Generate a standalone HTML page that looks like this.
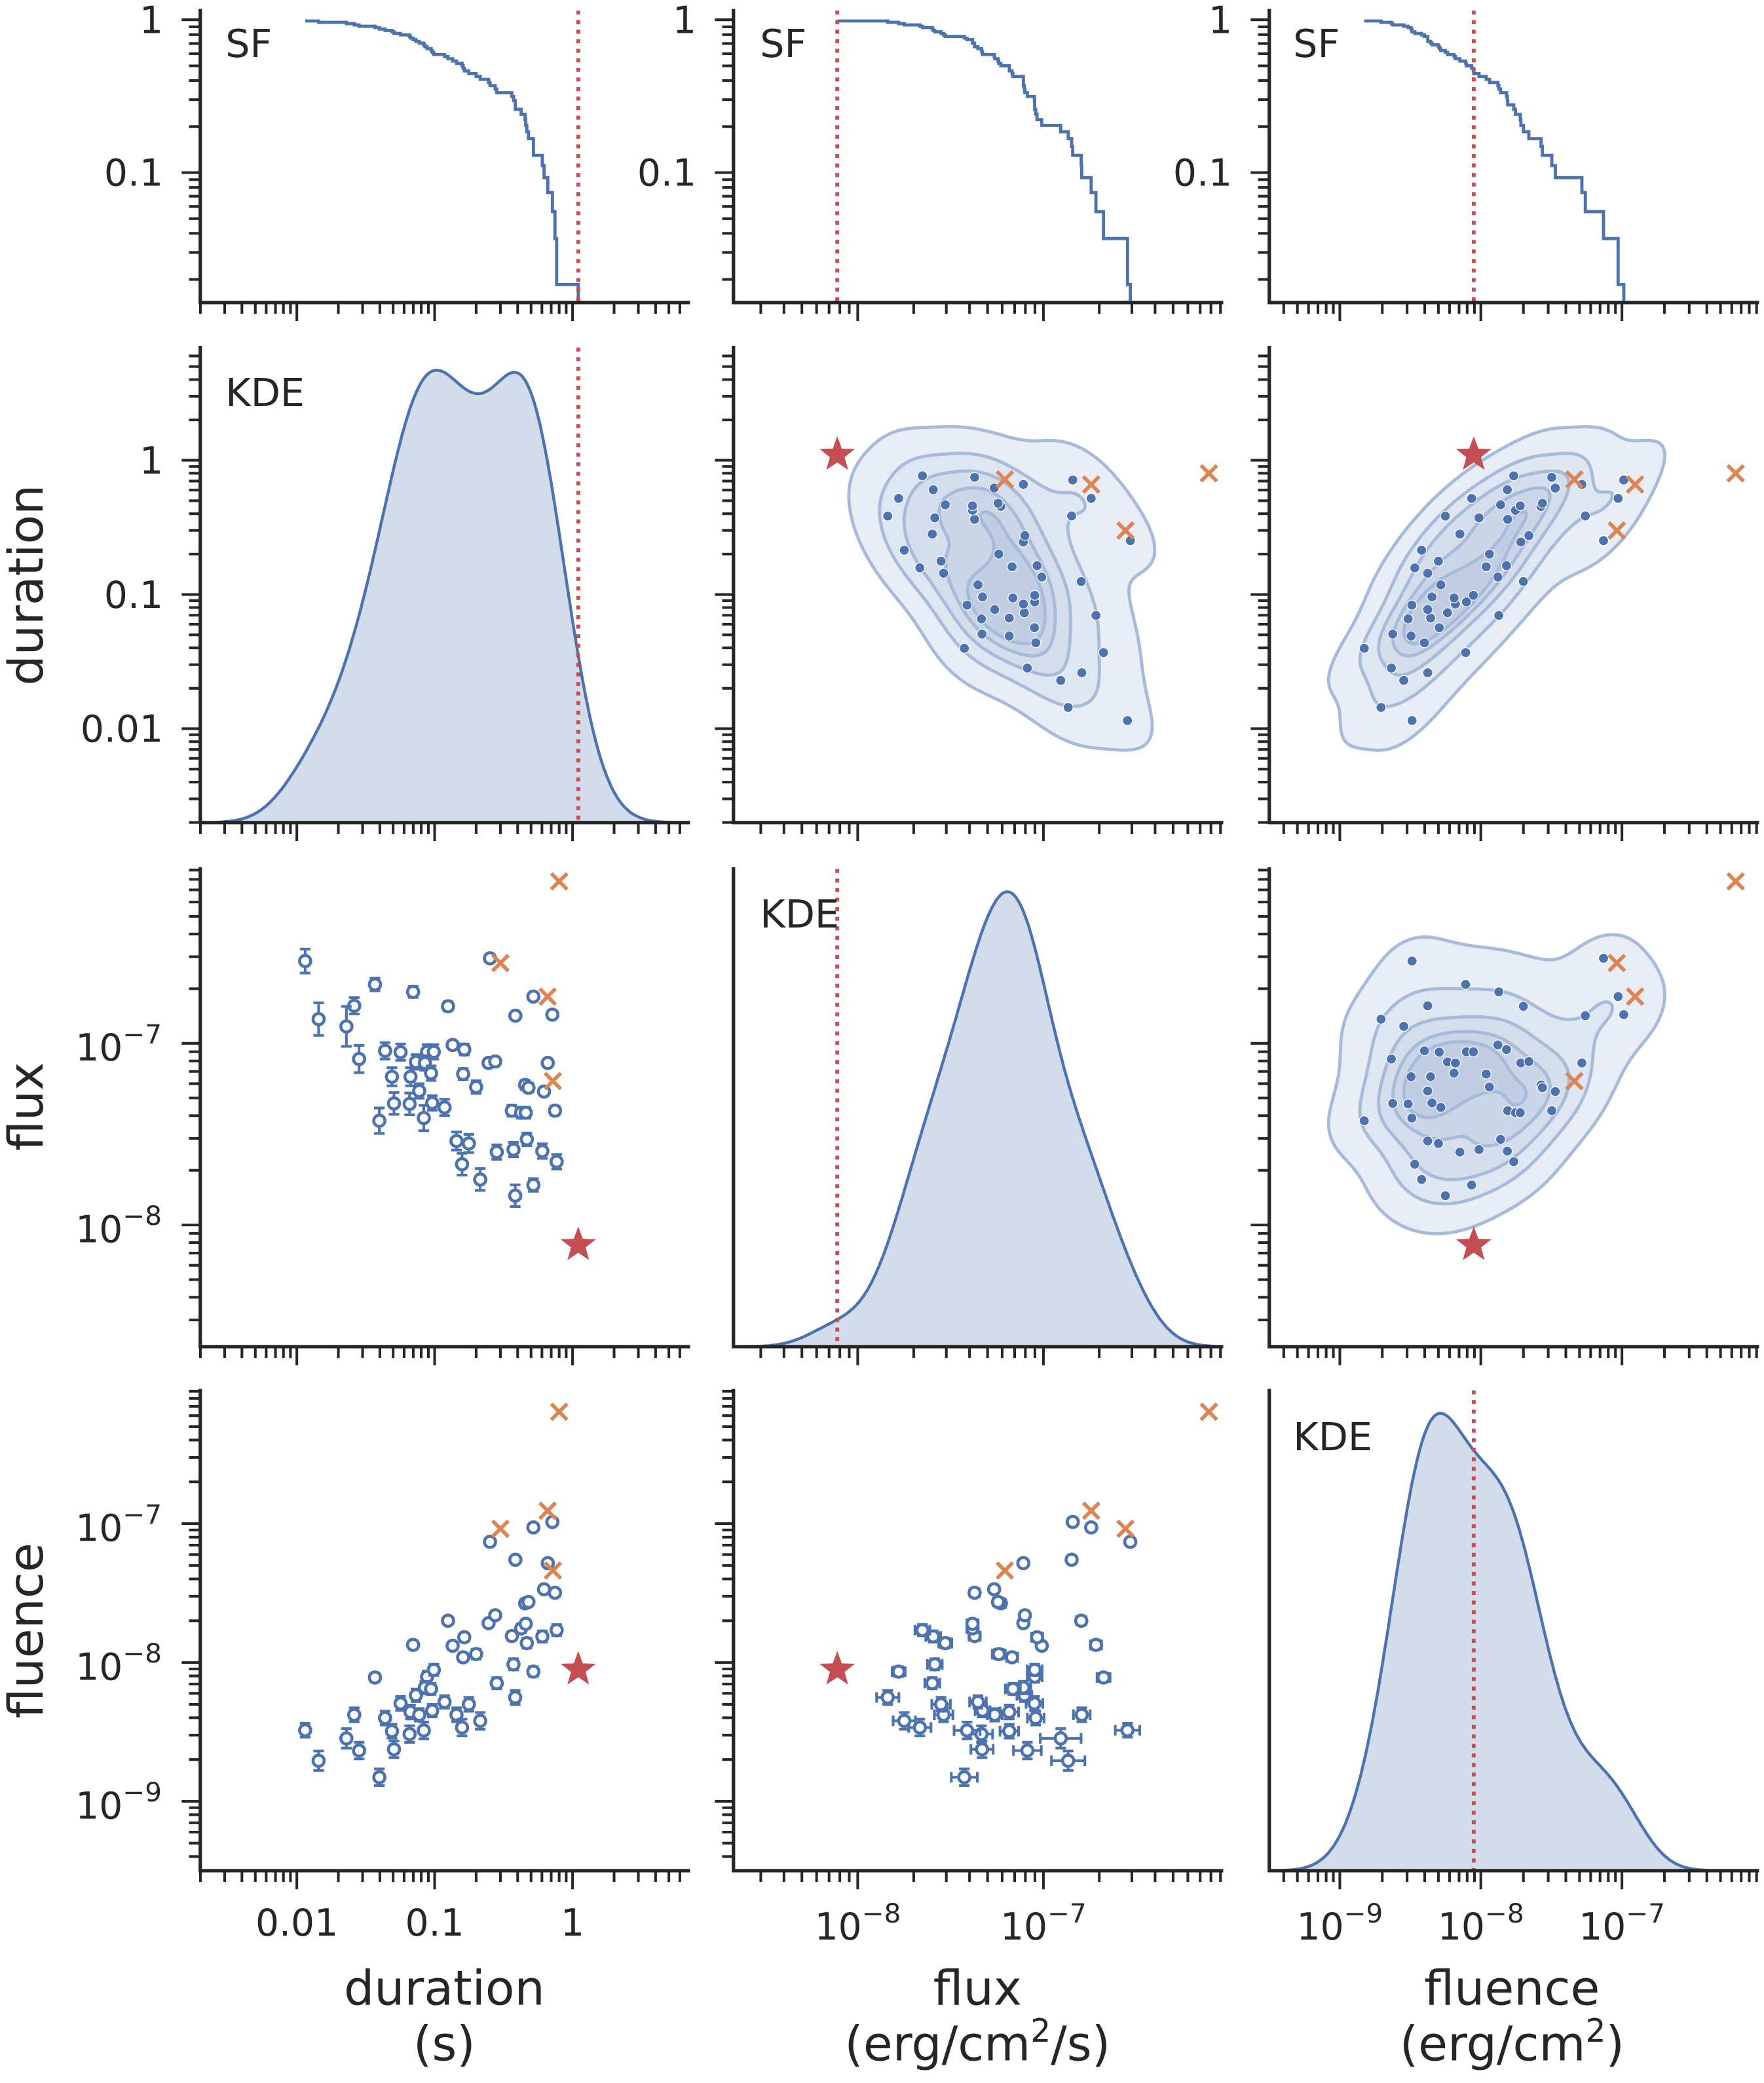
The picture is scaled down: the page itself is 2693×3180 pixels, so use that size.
<!DOCTYPE html>
<html><head><meta charset="utf-8"><title>Pair plot: duration, flux, fluence</title>
<style>
html,body{margin:0;padding:0;background:#fff;}
svg{display:block;}
text{font-family:"DejaVu Sans","Liberation Sans",sans-serif;fill:#262626;}
</style></head>
<body>
<svg id="chart" xmlns="http://www.w3.org/2000/svg" width="2693" height="3180" viewBox="0 0 1330 1570" preserveAspectRatio="none">
<rect x="0" y="0" width="1330" height="1570" fill="#fff"/>
<defs id="defs"></defs>
<g id="layer-fill"></g>
<g id="layer-marks"></g>
<g id="layer-axes"></g>
<g id="layer-text">
  <text x="170" y="43" font-size="29">SF</text>
  <text x="573" y="43" font-size="29">SF</text>
  <text x="975" y="43" font-size="29">SF</text>
  <text x="170" y="306" font-size="29">KDE</text>
  <text x="573" y="699" font-size="29">KDE</text>
  <text x="975" y="1093" font-size="29">KDE</text>
  <text x="335" y="1511" font-size="36" text-anchor="middle">duration</text>
  <text x="335" y="1553" font-size="36" text-anchor="middle">(s)</text>
  <text x="737" y="1511" font-size="36" text-anchor="middle">flux</text>
  <text x="737" y="1553" font-size="36" text-anchor="middle">(erg/cm<tspan dy="-14" font-size="24">2</tspan><tspan dy="14">/s)</tspan></text>
  <text x="1140" y="1511" font-size="36" text-anchor="middle">fluence</text>
  <text x="1140" y="1553" font-size="36" text-anchor="middle">(erg/cm<tspan dy="-14" font-size="24">2</tspan><tspan dy="14">)</tspan></text>
  <text transform="translate(32,441) rotate(-90)" font-size="36" text-anchor="middle">duration</text>
  <text transform="translate(32,834) rotate(-90)" font-size="36" text-anchor="middle">flux</text>
  <text transform="translate(32,1229) rotate(-90)" font-size="36" text-anchor="middle">fluence</text>
</g>
</svg>
<script>
// ---- data (blue bursts) ----
const dur = [0.0115,0.0144,0.0261,0.0229,0.0369,0.0283,0.0698,0.125,0.0437,0.0566,
0.0881,0.0986,0.0731,0.0849,0.049,0.0668,0.0942,0.0773,0.0507,0.0658,
0.096,0.118,0.0397,0.0834,0.135,0.164,0.161,0.200,0.246,0.275,
0.252,0.520,0.385,0.714,0.661,0.453,0.479,0.621,0.363,0.424,
0.746,0.458,0.144,0.177,0.158,0.214,0.282,0.373,0.466,0.604,
0.767,0.384,0.520];
const flux = [2.84e-7,1.36e-7,1.61e-7,1.24e-7,2.11e-7,8.2e-8,1.92e-7,1.60e-7,9.1e-8,8.95e-8,
8.98e-8,8.98e-8,7.9e-8,7.8e-8,6.55e-8,6.55e-8,6.85e-8,5.47e-8,4.67e-8,4.64e-8,
4.70e-8,4.44e-8,3.75e-8,3.88e-8,9.8e-8,9.25e-8,6.78e-8,5.75e-8,7.8e-8,7.95e-8,
2.94e-7,1.81e-7,1.42e-7,1.44e-7,7.8e-8,5.9e-8,5.7e-8,5.43e-8,4.26e-8,4.15e-8,
4.26e-8,4.15e-8,2.90e-8,2.81e-8,2.16e-8,1.78e-8,2.52e-8,2.60e-8,2.96e-8,2.55e-8,
2.23e-8,1.45e-8,1.66e-8];
const flu = [3.25e-9,1.96e-9,4.2e-9,2.84e-9,7.8e-9,2.32e-9,1.34e-8,2.0e-8,3.98e-9,5.07e-9,
7.9e-9,8.85e-9,5.8e-9,6.6e-9,3.2e-9,4.4e-9,6.45e-9,4.2e-9,2.37e-9,3.05e-9,
4.5e-9,5.2e-9,1.49e-9,3.24e-9,1.32e-8,1.52e-8,1.09e-8,1.15e-8,1.92e-8,2.19e-8,
7.4e-8,9.4e-8,5.5e-8,1.03e-7,5.2e-8,2.67e-8,2.73e-8,3.37e-8,1.55e-8,1.76e-8,
3.18e-8,1.9e-8,4.2e-9,5.0e-9,3.4e-9,3.8e-9,7.1e-9,9.7e-9,1.38e-8,1.54e-8,
1.71e-8,5.6e-9,8.6e-9];
// error bars (dex)
const fluxErr = [0.066,0.09,0.045,0.11,0.035,0.075,0.03,0.025,0.045,0.045,
0.04,0.04,0.04,0.04,0.05,0.05,0.04,0.04,0.06,0.06,
0.04,0.045,0.07,0.07,0.02,0.03,0.03,0.035,0.02,0.02,
0.02,0.02,0.02,0.02,0.02,0.025,0.025,0.02,0.03,0.03,
0.025,0.03,0.05,0.05,0.06,0.06,0.04,0.04,0.035,0.04,
0.04,0.06,0.035];
const fluErr = [0.05,0.07,0.05,0.07,0.03,0.06,0.03,0.025,0.05,0.05,
0.04,0.04,0.045,0.045,0.05,0.05,0.04,0.045,0.06,0.06,
0.045,0.045,0.06,0.06,0.025,0.03,0.03,0.035,0.02,0.02,
0.02,0.02,0.02,0.02,0.02,0.025,0.025,0.02,0.03,0.03,
0.025,0.03,0.05,0.05,0.06,0.06,0.04,0.04,0.035,0.04,
0.04,0.05,0.035];
// outliers (orange crosses)
const xDur = [0.80,0.30,0.66,0.72];
const xFlux = [7.8e-7,2.77e-7,1.81e-7,6.2e-8];
const xFlu = [6.4e-7,9.2e-8,1.24e-7,4.6e-8];
// highlighted event (red star)
const starDur = 1.1;
const starFlux = 7.75e-9;
const starFlu = 8.9e-9;
// tick labels
const durTickLabels = {"-2":"0.01","-1":"0.1","0":"1"};
const kdeIsoProps = [0.05,0.24,0.43,0.62,0.81];

const BLUE='#4c72b0', ORANGE='#dd8452', RED='#c44e52', DARK='#262626';
const AX = {dur:{lo:-2.70,hi:0.84}, flux:{lo:-8.67,hi:-6.04}, flu:{lo:-9.50,hi:-6.04}, sf:{lo:-1.85,hi:0.06}};
const cols = [{x0:151,x1:519,v:'dur'},{x0:553,x1:921,v:'flux'},{x0:957,x1:1325,v:'flu'}];
const rows = [{y0:8,y1:228,v:'sf'},{y0:262,y1:620,v:'dur'},{y0:655,y1:1015,v:'flux'},{y0:1048,y1:1410,v:'flu'}];
const DATA = {dur:dur, flux:flux, flu:flu};
const OUT = {dur:xDur, flux:xFlux, flu:xFlu};
const STAR = {dur:starDur, flux:starFlux, flu:starFlu};
const ERR = {flux:fluxErr, flu:fluErr};
const NS='http://www.w3.org/2000/svg';
const gFill=document.getElementById('layer-fill'), gMarks=document.getElementById('layer-marks'), gAxes=document.getElementById('layer-axes'), defs=document.getElementById('defs');

function el(tag, attrs, parent){const e=document.createElementNS(NS,tag);for(const k in attrs)e.setAttribute(k,attrs[k]);(parent||gMarks).appendChild(e);return e;}
function nm(e,name,inter){
  
  
  return e;}
const lg=Math.log10;
function px(c,lv){const C=cols[c],A=AX[C.v];return C.x0+(lv-A.lo)/(A.hi-A.lo)*(C.x1-C.x0);}
function py(r,lv){const R=rows[r],A=AX[R.v];return R.y1-(lv-A.lo)/(A.hi-A.lo)*(R.y1-R.y0);}

for(let r=0;r<4;r++)for(let c=0;c<3;c++){
  const cp=el('clipPath',{id:'clip'+r+c},defs);
  el('rect',{x:cols[c].x0,y:rows[r].y0,width:cols[c].x1-cols[c].x0,height:rows[r].y1-rows[r].y0},cp);
}

// ---- survival functions (row 0) ----
for(let c=0;c<3;c++){
  const v=cols[c].v;
  const vals=DATA[v].concat([STAR[v]]).slice().sort((a,b)=>a-b);
  const n=vals.length;
  let d='';
  for(let i=0;i<n-1;i++){
    const lvl=(n-i-1)/n;
    const xa=px(c,lg(vals[i])), xb=px(c,lg(vals[i+1])), y=py(0,lg(lvl));
    d+=(i===0?'M':'L')+xa.toFixed(1)+' '+y.toFixed(1)+'L'+xb.toFixed(1)+' '+y.toFixed(1);
  }
  d+='L'+px(c,lg(vals[n-1])).toFixed(1)+' '+rows[0].y1;
  const p=el('path',{d:d,fill:'none',stroke:BLUE,'stroke-width':2.4,'clip-path':'url(#clip0'+c+')'});
  nm(p,'sf-curve-'+v);
}

// ---- 1D KDE (diagonal) ----
function kde1(vals){
  const n=vals.length, m=vals.reduce((a,b)=>a+b,0)/n;
  const sd=Math.sqrt(vals.reduce((a,b)=>a+(b-m)*(b-m),0)/(n-1));
  const bw=sd*Math.pow(n,-0.2);
  const lo=Math.min(...vals)-3*bw, hi=Math.max(...vals)+3*bw;
  const xs=[],ds=[];
  for(let i=0;i<=300;i++){const x=lo+(hi-lo)*i/300;let s=0;for(const v of vals){const z=(x-v)/bw;s+=Math.exp(-0.5*z*z);}xs.push(x);ds.push(s);}
  return {xs,ds};
}
[[1,0],[2,1],[3,2]].forEach(([r,c])=>{
  const v=cols[c].v;
  const vals=DATA[v].concat([STAR[v]]).map(lg);
  const k=kde1(vals), mx=Math.max(...k.ds), R=rows[r], H=(R.y1-R.y0)/1.05;
  let d='M'+px(c,k.xs[0]).toFixed(1)+' '+R.y1;
  for(let i=0;i<k.xs.length;i++) d+='L'+px(c,k.xs[i]).toFixed(1)+' '+(R.y1-k.ds[i]/mx*H).toFixed(1);
  d+='L'+px(c,k.xs[k.xs.length-1]).toFixed(1)+' '+R.y1+'Z';
  const p=el('path',{d:d,fill:'#d3dcea',stroke:BLUE,'stroke-width':2.2,'clip-path':'url(#clip'+r+c+')'},gFill);
  nm(p,'kde-curve-'+v);
});

// ---- 2D KDE contours (upper triangle) ----
const bandColors=['#e9eef6','#dee6f1','#d4ddec','#cad5e7','#c0cde3'];
function kde2(r,c){
  const vx=cols[c].v, vy=rows[r].v;
  const X=DATA[vx].map(lg), Y=DATA[vy].map(lg), n=X.length;
  const mx=X.reduce((a,b)=>a+b,0)/n, my=Y.reduce((a,b)=>a+b,0)/n;
  let sxx=0,syy=0,sxy=0;
  for(let i=0;i<n;i++){sxx+=(X[i]-mx)**2;syy+=(Y[i]-my)**2;sxy+=(X[i]-mx)*(Y[i]-my);}
  const f=Math.pow(n,-1/3);
  sxx=sxx/(n-1)*f;syy=syy/(n-1)*f;sxy=sxy/(n-1)*f;
  const det=sxx*syy-sxy*sxy, ia=syy/det, ib=-sxy/det, ic=sxx/det;
  const C=cols[c],R=rows[r],Ax=AX[vx],Ay=AX[vy],s=2;
  const nx=Math.floor((C.x1-C.x0)/s)+1, ny=Math.floor((R.y1-R.y0)/s)+1;
  const G=[],all=[];
  for(let j=0;j<ny;j++){const row=[];const ly=Ay.lo+(R.y1-(R.y0+j*s))/(R.y1-R.y0)*(Ay.hi-Ay.lo);
    for(let i=0;i<nx;i++){const lx=Ax.lo+(i*s)/(C.x1-C.x0)*(Ax.hi-Ax.lo);let t=0;
      for(let k=0;k<n;k++){const dx=lx-X[k],dy=ly-Y[k];t+=Math.exp(-0.5*(ia*dx*dx+2*ib*dx*dy+ic*dy*dy));}
      row.push(t);all.push(t);}
    G.push(row);}
  all.sort((a,b)=>b-a);const tot=all.reduce((a,b)=>a+b,0);
  const levels=kdeIsoProps.map(p=>{let cum=0;for(const v of all){cum+=v;if(cum/tot>=1-p)return v;}return all[all.length-1];});
  const gf=el('g',{'clip-path':'url(#clip'+r+c+')'},gFill);
  nm(gf,'kde-fill-'+vx+'-'+vy);
  const band=v=>{let b=0;for(const L of levels)if(v>L)b++;return b;};
  for(let j=0;j<ny-1;j++){let i=0;while(i<nx-1){const v=(G[j][i]+G[j+1][i]+G[j][i+1]+G[j+1][i+1])/4;const b=band(v);let k=i+1;
      while(k<nx-1&&band((G[j][k]+G[j+1][k]+G[j][k+1]+G[j+1][k+1])/4)===b)k++;
      if(b>0){const rc=el('rect',{x:C.x0+i*s,y:R.y0+j*s,width:(k-i)*s+0.4,height:s+0.4,fill:bandColors[b-1]},gf);
        nm(rc,'kde-band');}
      i=k;}}
  levels.forEach((L,li)=>{
    let d='';
    const ip=(a,b)=>(L-a)/(b-a);
    for(let j=0;j<ny-1;j++)for(let i=0;i<nx-1;i++){
      const tl=G[j][i],tr=G[j][i+1],br=G[j+1][i+1],bl=G[j+1][i];
      const idx=(tl>L?8:0)|(tr>L?4:0)|(br>L?2:0)|(bl>L?1:0);
      if(idx===0||idx===15)continue;
      const x=C.x0+i*s,y=R.y0+j*s;
      const T=[x+s*ip(tl,tr),y],Rt=[x+s,y+s*ip(tr,br)],B=[x+s*ip(bl,br),y+s],Lf=[x,y+s*ip(tl,bl)];
      const seg=(p,q)=>{d+='M'+p[0].toFixed(1)+' '+p[1].toFixed(1)+'L'+q[0].toFixed(1)+' '+q[1].toFixed(1);};
      switch(idx){case 1:case 14:seg(Lf,B);break;case 2:case 13:seg(B,Rt);break;case 3:case 12:seg(Lf,Rt);break;
        case 4:case 11:seg(T,Rt);break;case 6:case 9:seg(T,B);break;case 7:case 8:seg(T,Lf);break;
        case 5:seg(T,Lf);seg(B,Rt);break;case 10:seg(T,Rt);seg(Lf,B);break;}
    }
    const p=el('path',{d:d,fill:'none',stroke:'#a7bad9','stroke-width':2.4,'stroke-linecap':'round','clip-path':'url(#clip'+r+c+')'},gFill);
    nm(p,'kde-contour-'+li);
  });
}
kde2(1,1);kde2(1,2);kde2(2,2);

// ---- markers ----
function cross(x,y,name){const g=el('g',{});nm(g,name);
  el('path',{d:`M${x-6} ${y-6}L${x+6} ${y+6}M${x-6} ${y+6}L${x+6} ${y-6}`,stroke:ORANGE,'stroke-width':2.8,fill:'none'},g);}
function star(x,y,name){let d='';for(let k=0;k<10;k++){const rr=k%2?5.8:14,a=-Math.PI/2+k*Math.PI/5;d+=(k?'L':'M')+(x+rr*Math.cos(a)).toFixed(1)+' '+(y+rr*Math.sin(a)).toFixed(1);}
  const p=el('path',{d:d+'Z',fill:RED});nm(p,name);}

[[1,1],[1,2],[2,2]].forEach(([r,c])=>{
  const vx=cols[c].v, vy=rows[r].v;
  DATA[vx].forEach((v,i)=>{const ci=el('circle',{cx:px(c,lg(v)),cy:py(r,lg(DATA[vy][i])),r:3.7,fill:BLUE,stroke:'#fff','stroke-width':0.6});
    nm(ci,'point-'+vx+'-'+vy);});
  OUT[vx].forEach((v,i)=>cross(px(c,lg(v)),py(r,lg(OUT[vy][i])),'outlier-'+vx+'-'+vy));
  star(px(c,lg(STAR[vx])),py(r,lg(STAR[vy])),'highlight-star-'+vx+'-'+vy);
});
[[2,0],[3,0],[3,1]].forEach(([r,c])=>{
  const vx=cols[c].v, vy=rows[r].v;
  const g=el('g',{});nm(g,'errorbar-series-'+vx+'-'+vy);
  DATA[vx].forEach((v,i)=>{
    const lx=lg(v), ly=lg(DATA[vy][i]), x=px(c,lx), y=py(r,ly);
    if(ERR[vy]){const e=ERR[vy][i],ya=py(r,ly+e),yb=py(r,ly-e);
      const eb=el('path',{d:`M${x} ${ya}L${x} ${yb}M${x-4} ${ya}L${x+4} ${ya}M${x-4} ${yb}L${x+4} ${yb}`,stroke:BLUE,'stroke-width':2,fill:'none'},g);
      nm(eb,'y-errorbar');}
    if(ERR[vx]){const e=ERR[vx][i],xa=px(c,lx-e),xb=px(c,lx+e);
      const eb=el('path',{d:`M${xa} ${y}L${xb} ${y}M${xa} ${y-4}L${xa} ${y+4}M${xb} ${y-4}L${xb} ${y+4}`,stroke:BLUE,'stroke-width':2,fill:'none'},g);
      nm(eb,'x-errorbar');}
    const ci=el('circle',{cx:x,cy:y,r:4.2,fill:'#fff',stroke:BLUE,'stroke-width':2.3},g);
    nm(ci,'point-'+vx+'-'+vy);
  });
  OUT[vx].forEach((v,i)=>cross(px(c,lg(v)),py(r,lg(OUT[vy][i])),'outlier-'+vx+'-'+vy));
  star(px(c,lg(STAR[vx])),py(r,lg(STAR[vy])),'highlight-star-'+vx+'-'+vy);
});

// ---- red dotted reference lines ----
[[0,0],[1,0],[0,1],[2,1],[0,2],[3,2]].forEach(([r,c])=>{
  const x=px(c,lg(STAR[cols[c].v]));
  const l=el('line',{x1:x,x2:x,y1:rows[r].y0,y2:rows[r].y1,stroke:RED,'stroke-width':2.9,'stroke-dasharray':'3 4.2'});
  nm(l,'reference-line-'+cols[c].v);
});

// ---- axes ----
function ticks(A){const out=[];for(let d=Math.floor(A.lo)-1;d<=Math.ceil(A.hi);d++){for(let k=1;k<10;k++){const v=d+Math.log10(k);if(v>=A.lo-1e-9&&v<=A.hi+1e-9)out.push({v:v,major:k===1,dec:d});}}return out;}
function supLabel(x,y,exp,anchor,name){const t=el('text',{x:x,y:y,'font-size':28,'text-anchor':anchor},gAxes);t.textContent='10';
  const s=document.createElementNS(NS,'tspan');s.setAttribute('dy','-13');s.setAttribute('font-size','20');s.textContent='\u2212'+Math.abs(exp);t.appendChild(s);nm(t,name);}
for(let r=0;r<4;r++)for(let c=0;c<3;c++){
  const C=cols[c],R=rows[r];const diag=(r>0&&r-1===c);
  const sp=el('path',{d:`M${C.x0} ${R.y0}L${C.x0} ${R.y1}L${C.x1} ${R.y1}`,fill:'none',stroke:DARK,'stroke-width':2.6,'stroke-linecap':'square'},gAxes);
  nm(sp,'spines-r'+r+'c'+c);
  let d='';
  ticks(AX[C.v]).forEach(t=>{const x=px(c,t.v);d+=`M${x.toFixed(1)} ${R.y1}L${x.toFixed(1)} ${R.y1+(t.major?14:8.5)}`;
    if(r===3&&t.major){
      if(C.v==='dur'){const tl=el('text',{x:x,y:1459,'font-size':28,'text-anchor':'middle'},gAxes);tl.textContent=durTickLabels[t.dec];nm(tl,'x-tick-label');}
      else supLabel(x,1462,t.dec,'middle','x-tick-label');}});
  const xt=el('path',{d:d,stroke:DARK,'stroke-width':2,fill:'none'},gAxes);nm(xt,'x-ticks');
  if(diag&&c>0)continue;
  d='';
  ticks(AX[R.v]).forEach(t=>{const y=py(r,t.v);d+=`M${C.x0} ${y.toFixed(1)}L${C.x0-(t.major?14:8.5)} ${y.toFixed(1)}`;
    if(t.major&&(r===0||c===0)){
      if(R.v==='sf'||R.v==='dur'){const lab=t.dec===0?'1':(t.dec===-1?'0.1':(t.dec===-2?'0.01':String(Math.pow(10,t.dec))));
        const tl=el('text',{x:C.x0-28,y:y+10,'font-size':28,'text-anchor':'end'},gAxes);tl.textContent=lab;nm(tl,'y-tick-label');}
      else supLabel(C.x0-29,y+13,t.dec,'end','y-tick-label');}});
  const yt=el('path',{d:d,stroke:DARK,'stroke-width':2,fill:'none'},gAxes);nm(yt,'y-ticks');
}
</script>
</body></html>
